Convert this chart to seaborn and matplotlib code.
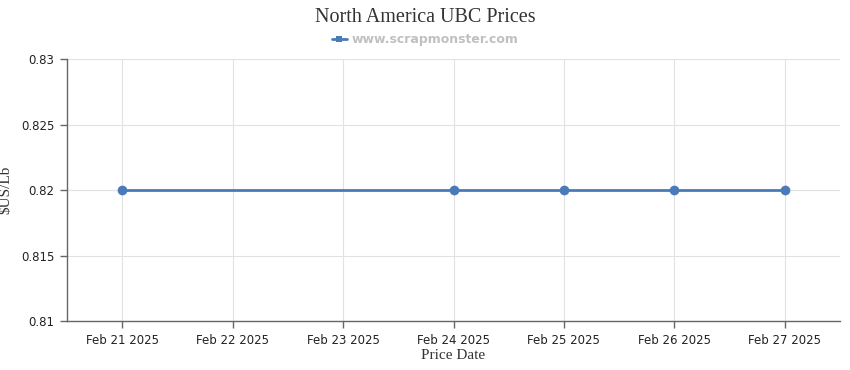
import pandas as pd
import matplotlib.pyplot as plt
import matplotlib.dates as mdates
import seaborn as sns

# Data
dates = ['2025-02-21', '2025-02-24', '2025-02-25', '2025-02-26', '2025-02-27']
prices = [0.82, 0.82, 0.82, 0.82, 0.82]
tick_dates = pd.date_range('2025-02-21', '2025-02-27', freq='D')
y_ticks = [0.81, 0.815, 0.82, 0.825, 0.83]
y_labels = ['0.81', '0.815', '0.82', '0.825', '0.83']

df = pd.DataFrame({'Date': pd.to_datetime(dates), 'Price': prices})

sns.set_style("white")
plt.rcParams['font.family'] = ['DejaVu Sans']

LINE = '#4a7ab8'
fig = plt.figure(figsize=(8.5, 3.7), dpi=100)
ax = fig.add_axes([67 / 850, 49 / 370, 773 / 850, 262 / 370])

sns.lineplot(data=df, x='Date', y='Price', ax=ax, color=LINE, linewidth=2,
             marker='o', markersize=7, markeredgewidth=0, label='www.scrapmonster.com')

ax.set_xlim(tick_dates[0] - pd.Timedelta(hours=12), tick_dates[-1] + pd.Timedelta(hours=12))
ax.set_ylim(0.81, 0.83)
ax.set_xticks(tick_dates)
ax.xaxis.set_major_formatter(mdates.DateFormatter('%b %d %Y'))
ax.set_yticks(y_ticks)
ax.set_yticklabels(y_labels)

ax.grid(True, color='#e2e2e2', linewidth=0.8)
ax.set_axisbelow(True)
for side in ['top', 'right']:
    ax.spines[side].set_visible(False)
for side in ['left', 'bottom']:
    ax.spines[side].set_color('#666666')
    ax.spines[side].set_linewidth(1)
ax.tick_params(axis='both', which='both', direction='out', length=5, width=1,
               color='#666666', labelsize=8.5, labelcolor='#222222', pad=4, bottom=True, left=True)

serif = ['Liberation Serif', 'DejaVu Serif']
ax.set_xlabel('Price Date', family=serif, fontsize=11, color='#333333', labelpad=2)
ax.set_ylabel('$US/Lb', family=serif, fontsize=11, color='#333333')
ax.yaxis.set_label_coords(-55 / 773, 0.5)
fig.text(0.5, 1 - 17 / 370, 'North America UBC Prices', family=serif, fontsize=14.5,
         color='#333333', ha='center', va='center')

# legend sits centred on the figure, not the axes
leg = ax.legend(loc='center', bbox_to_anchor=((425 - 67) / 773, (321 - 40) / 262), frameon=False,
                handlelength=1.2, handletextpad=0.4, borderaxespad=0,
                prop={'weight': 'bold', 'size': 9})
for t in leg.get_texts():
    t.set_color('#c0c0c0')
for h in leg.legend_handles:
    h.set_markersize(5)
    h.set_marker('s')

fig.savefig('out.png', dpi=100)
